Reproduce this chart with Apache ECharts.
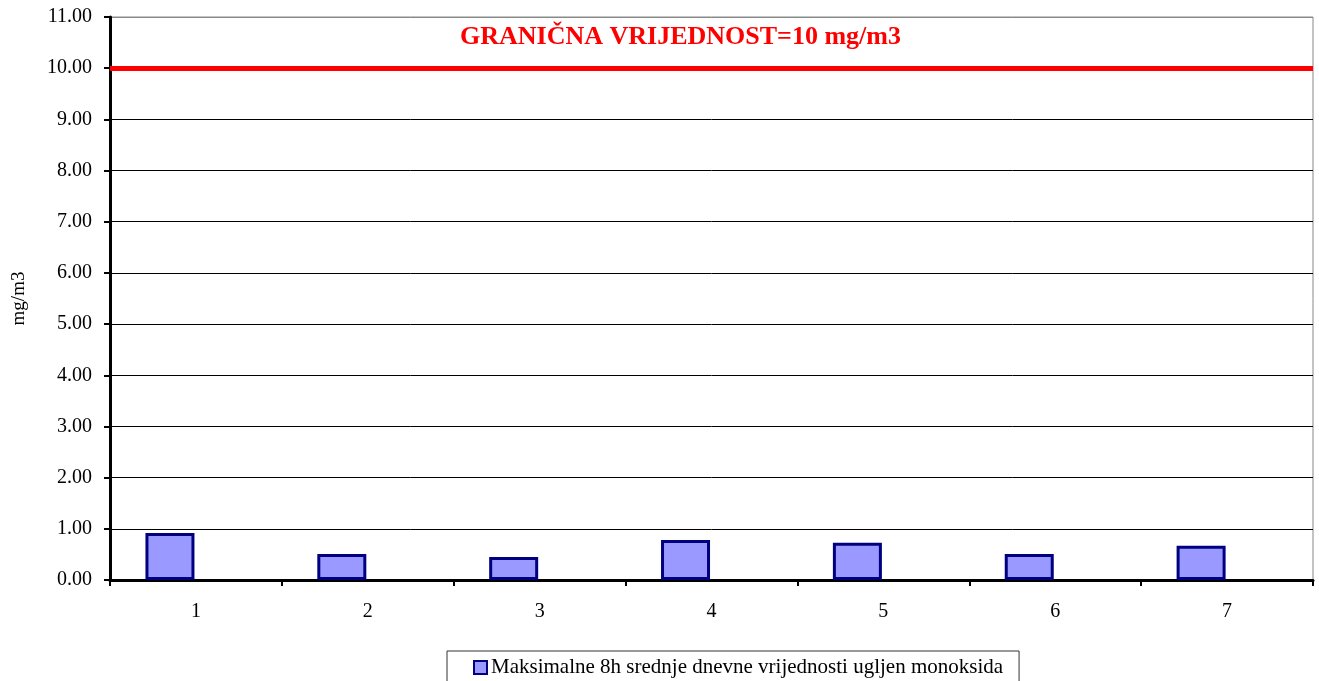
<!DOCTYPE html>
<html><head><meta charset="utf-8">
<script src="https://cdn.jsdelivr.net/npm/echarts@6/dist/echarts.min.js"></script>
<style>html,body{margin:0;padding:0;background:#fff}#c{width:1319px;height:681px}</style>
</head><body><div id="c"></div>
<script>
const categories = ['1','2','3','4','5','6','7'];
const values = [0.92, 0.51, 0.45, 0.78, 0.73, 0.51, 0.67];
const limitValue = 10;
const seriesName = 'Maksimalne 8h srednje dnevne vrijednosti ugljen monoksida';
const limitLabel = 'GRANIČNA VRIJEDNOST=10 mg/m3';
const yAxisName = 'mg/m3';

const serif = '"Liberation Serif","Times New Roman",serif';
const splitColors = [];
for (let i = 0; i < 11; i++) splitColors.push('#000');
splitColors.push('#888');

const chart = echarts.init(document.getElementById('c'), null, {renderer:'canvas'});
chart.setOption({
  animation: false,
  backgroundColor: '#fff',
  title: {
    text: limitLabel, left: 455, top: 19,
    textStyle: {color: '#ff0000', fontFamily: serif, fontWeight: 'bold', fontSize: 26}
  },
  grid: {left: 110, right: 6, top: 17, bottom: 101, show: true, borderColor: '#888', borderWidth: 1, backgroundColor: 'transparent'},
  legend: {
    data: [seriesName], left: 447, top: 651,
    borderColor: '#333', borderWidth: 1, padding: [6, 16, 10, 26],
    itemWidth: 13, itemHeight: 13, itemGap: 4, icon: 'rect',
    itemStyle: {borderWidth: 2},
    textStyle: {fontFamily: serif, fontSize: 21, color: '#000', padding: [0,0,0,-1]}
  },
  xAxis: {
    type: 'category', data: categories, boundaryGap: true,
    axisLine: {lineStyle: {color: '#000', width: 3}},
    axisTick: {show: true, length: 6, lineStyle: {color: '#000', width: 2}},
    axisLabel: {fontFamily: serif, fontSize: 20, color: '#000', margin: 22}
  },
  yAxis: {
    type: 'value', min: 0, max: 11, interval: 1,
    name: yAxisName, nameLocation: 'middle', nameRotate: 90, nameGap: 81,
    nameTextStyle: {fontFamily: serif, fontSize: 19, color: '#000'},
    axisLine: {show: true, lineStyle: {color: '#000', width: 3}},
    axisTick: {show: true, length: 6, lineStyle: {color: '#000', width: 2}},
    axisLabel: {fontFamily: serif, fontSize: 20, color: '#000', margin: 18, formatter: v => v.toFixed(2)},
    splitLine: {show: true, lineStyle: {color: splitColors, width: 1}}
  },
  series: [{
    name: seriesName, type: 'bar', data: values, barWidth: 49, barGap: '6%',
    itemStyle: {color: '#9999ff', borderColor: '#000080', borderWidth: 3},
    markLine: {
      silent: true, symbol: 'none', label: {show: false},
      lineStyle: {color: '#ff0000', width: 5, type: 'solid'},
      data: [{yAxis: limitValue}]
    }
  }, {
    name: 'placeholder', type: 'bar', barWidth: 49, barGap: '6%',
    data: categories.map(() => null)
  }]
});
</script></body></html>
